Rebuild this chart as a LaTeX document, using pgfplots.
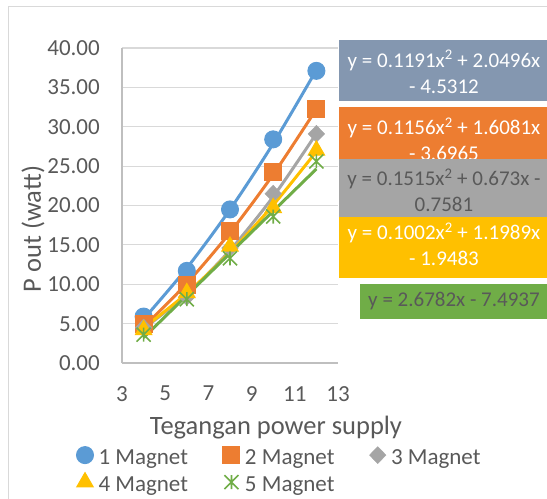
\documentclass[border=0pt]{standalone}
\usepackage{fontspec}
\setmainfont{Carlito}
\usepackage{pgfplots}
\pgfplotsset{compat=1.18}

\definecolor{cOne}{HTML}{5B9BD5}
\definecolor{cTwo}{HTML}{ED7D31}
\definecolor{cThree}{HTML}{A5A5A5}
\definecolor{cFour}{HTML}{FFC000}
\definecolor{cFive}{HTML}{70AD47}
\definecolor{cBoxOne}{HTML}{8497B0}
\definecolor{cText}{HTML}{595959}
\definecolor{cGrid}{HTML}{D9D9D9}
\definecolor{cAxis}{HTML}{BFBFBF}

% X-shaped star with a vertical bar
\pgfdeclareplotmark{xstar}{%
  \pgfpathmoveto{\pgfqpoint{-\pgfplotmarksize}{-\pgfplotmarksize}}%
  \pgfpathlineto{\pgfqpoint{\pgfplotmarksize}{\pgfplotmarksize}}%
  \pgfpathmoveto{\pgfqpoint{-\pgfplotmarksize}{\pgfplotmarksize}}%
  \pgfpathlineto{\pgfqpoint{\pgfplotmarksize}{-\pgfplotmarksize}}%
  \pgfpathmoveto{\pgfqpoint{0pt}{-\pgfplotmarksize}}%
  \pgfpathlineto{\pgfqpoint{0pt}{\pgfplotmarksize}}%
  \pgfusepathqstroke}

\newcommand{\ticksize}{\fontsize{23bp}{28bp}\selectfont}
\newcommand{\titlesize}{\fontsize{26.5bp}{32bp}\selectfont}
\newcommand{\eqsize}{\fontsize{21bp}{26bp}\selectfont}

\begin{document}
\begin{tikzpicture}
\path[use as bounding box] (0,0) rectangle (547bp,-499bp);
\draw[cGrid, line width=1bp] (8bp,-499bp) -- (8bp,-6bp) -- (547bp,-6bp);

\begin{axis}[
  at={(122bp,-363bp)}, anchor=south west,
  scale only axis, width=216bp, height=315bp,
  xmin=3, xmax=13, ymin=0, ymax=40,
  xtick={3,5,...,13}, ytick={0,5,...,40},
  axis x line*=bottom, axis y line*=left,
  axis line style={draw=cAxis, line width=1.2bp},
  ymajorgrids, grid style={draw=cGrid, line width=1.2bp},
  major tick length=0pt,
  /pgf/number format/assume math mode=true,
  tick label style={font=\ticksize, text=cText, inner sep=0pt},
  xticklabel style={anchor=north, yshift=-23bp},
  yticklabel style={anchor=east, xshift=-22bp,
    /pgf/number format/fixed, /pgf/number format/fixed zerofill,
    /pgf/number format/precision=2},
  legend columns=3,
  legend cell align=left,
  legend image code/.code={\draw[#1, only marks] plot coordinates {(8.5bp,2.3bp)};},
  legend style={at={(axis description cs:-0.2106,-0.2654)}, anchor=north west,
    draw=none, fill=none, inner sep=0pt, outer sep=0pt,
    font=\ticksize, text=cText, row sep=7bp,
    nodes={inner sep=0pt},
    /tikz/every odd column/.append style={column sep=5bp},
    /tikz/every even column/.append style={column sep=35bp}},
  mark options={solid, line width=1bp},
]

% measured points
\addplot[only marks, mark=*, mark size=8.5bp, color=cOne, fill=cOne]
  coordinates {(4,5.9)(6,11.7)(8,19.5)(10,28.4)(12,37.1)};
\addlegendentry{1 Magnet}
\addplot[only marks, mark=square*, mark size=8.5bp, color=cTwo, fill=cTwo]
  coordinates {(4,5.0)(6,9.9)(8,16.7)(10,24.3)(12,32.2)};
\addlegendentry{2 Magnet}
\addplot[only marks, mark=diamond*, mark size=8.5bp, mark options={xscale=1.3}, color=cThree, fill=cThree]
  coordinates {(4,4.5)(6,8.4)(8,14.6)(10,21.5)(12,29.1)};
\addlegendentry{3 Magnet}
\addplot[only marks, mark=triangle*, mark size=9.5bp, color=cFour, fill=cFour]
  coordinates {(4,4.2)(6,8.9)(8,14.8)(10,19.7)(12,27.0)};
\addlegendentry{4 Magnet}
\addplot[only marks, mark=xstar, mark size=7bp, mark options={line width=1.6bp}, color=cFive]
  coordinates {(4,3.6)(6,8.1)(8,13.3)(10,18.6)(12,25.6)};
\addlegendentry{5 Magnet}

% fitted trend curves
\addplot[forget plot, smooth, no marks, color=cOne, line width=3bp]
  coordinates {(4,5.573)(6,12.054)(8,19.488)(10,27.875)(12,37.214)};
\addplot[forget plot, smooth, no marks, color=cTwo, line width=3bp]
  coordinates {(4,4.586)(6,10.114)(8,16.567)(10,23.945)(12,32.247)};
\addplot[forget plot, smooth, no marks, color=cThree, line width=3bp]
  coordinates {(4,4.358)(6,8.734)(8,14.322)(10,21.122)(12,29.134)};
\addplot[forget plot, smooth, no marks, color=cFour, line width=3bp]
  coordinates {(4,4.451)(6,8.852)(8,14.056)(10,20.061)(12,26.867)};
\addplot[forget plot, no marks, color=cFive, line width=3bp]
  coordinates {(4,3.219)(6,8.576)(8,13.932)(10,19.289)(12,24.645)};
\end{axis}

% axis titles
\node[font=\titlesize, text=cText, rotate=90] at (33bp,-229bp) {P out (watt)};
\node[font=\titlesize, text=cText] at (276bp,-428bp) {Tegangan power supply};

% trendline equation labels
\fill[cBoxOne] (339bp,-40bp) rectangle (549bp,-101bp);
\node[font=\eqsize, text=white, align=center, inner sep=0pt] at (444bp,-72bp)
  {y = 0.1191x\textsuperscript{2} + 2.0496x\\- 4.5312};
\fill[cTwo] (339bp,-107bp) rectangle (549bp,-168bp);
\node[font=\eqsize, text=white, align=center, inner sep=0pt] at (444bp,-139.5bp)
  {y = 0.1156x\textsuperscript{2} + 1.6081x\\- 3.6965};
\fill[cThree] (339bp,-159bp) rectangle (549bp,-220bp);
\node[font=\eqsize, text=cText, align=center, inner sep=0pt] at (444bp,-190.5bp)
  {y = 0.1515x\textsuperscript{2} + 0.673x -\\0.7581};
\fill[cFour] (339bp,-217bp) rectangle (549bp,-278bp);
\node[font=\eqsize, text=white, align=center, inner sep=0pt] at (444bp,-244.5bp)
  {y = 0.1002x\textsuperscript{2} + 1.1989x\\- 1.9483};
\fill[cFive] (360bp,-284bp) rectangle (549bp,-319bp);
\node[font=\eqsize, text=cText, inner sep=0pt] at (454bp,-301.5bp)
  {y = 2.6782x - 7.4937};
\end{tikzpicture}
\end{document}
